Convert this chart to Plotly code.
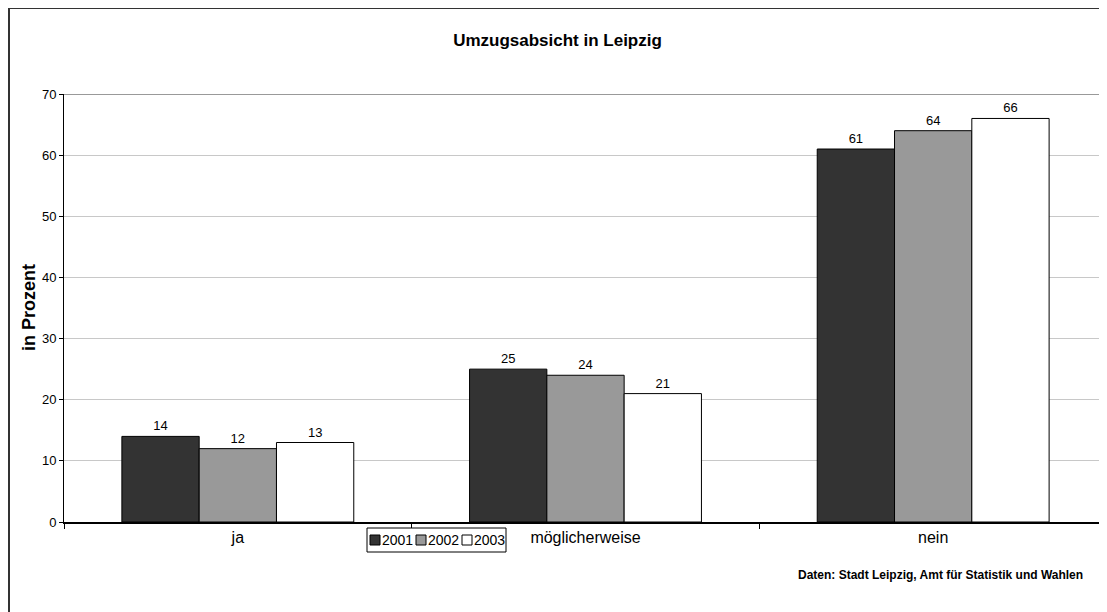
import plotly.graph_objects as go

categories = ["ja", "möglicherweise", "nein"]
years = ["2001", "2002", "2003"]
values_2001 = [14, 25, 61]
values_2002 = [12, 24, 64]
values_2003 = [13, 21, 66]

FONT = "Arial, Liberation Sans, sans-serif"
fills = {"2001": "#333333", "2002": "#999999", "2003": "#ffffff"}

# page body has an 8px margin, so figure pixels = screen pixels - 8
W, H = 1099, 604
L, R, T, B = 56, 0, 86, 90
pw, ph = W - L - R, H - T - B


def px_x(x):
    return (x - L) / pw


def px_y(y):
    return (H - B - y) / ph


fig = go.Figure()
for year, vals in zip(years, [values_2001, values_2002, values_2003]):
    fig.add_trace(go.Bar(
        name=year, x=categories, y=vals,
        marker=dict(color=fills[year], line=dict(color="#000000", width=1)),
        text=vals, texttemplate="%{y}", textposition="outside",
        textfont=dict(family=FONT, size=13, color="#000000"),
        cliponaxis=False, showlegend=False,
    ))

# outer frame (only left and top edges are inside the picture)
shapes = [
    dict(type="line", xref="paper", yref="paper",
         x0=px_x(1), x1=px_x(1), y0=px_y(620), y1=px_y(0),
         line=dict(color="#333333", width=2)),
    dict(type="line", xref="paper", yref="paper",
         x0=px_x(0), x1=px_x(1120), y0=px_y(0), y1=px_y(0),
         line=dict(color="#333333", width=2)),
    dict(type="line", xref="paper", yref="y", x0=0, x1=1, y0=70, y1=70,
         line=dict(color="#999999", width=2)),
    dict(type="rect", xref="paper", yref="paper",
         x0=px_x(359), x1=px_x(498), y0=px_y(544), y1=px_y(520),
         line=dict(color="#000000", width=1), fillcolor="white"),
]

# compact legend drawn by hand: swatch + label
annotations = []
for i, year in enumerate(years):
    sx = 362 + i * 46
    shapes.append(dict(type="rect", xref="paper", yref="paper",
                       x0=px_x(sx), x1=px_x(sx + 10),
                       y0=px_y(537), y1=px_y(527),
                       fillcolor=fills[year],
                       line=dict(color="#000000", width=1)))
    annotations.append(dict(text=year, xref="paper", yref="paper",
                            x=px_x(sx + 11), y=px_y(532), borderpad=0,
                            xanchor="left", yanchor="middle", showarrow=False,
                            font=dict(family=FONT, size=14, color="#000000")))

annotations += [
    dict(text="<b>in Prozent</b>", xref="paper", yref="paper",
         x=px_x(21), y=0.5, textangle=-90, showarrow=False,
         xanchor="center", yanchor="middle",
         font=dict(family=FONT, size=18, color="#000000")),
    dict(text="<b>Daten: Stadt Leipzig, Amt für Statistik und Wahlen</b>",
         xref="paper", yref="paper", x=px_x(932), y=px_y(567),
         xanchor="center", yanchor="middle", showarrow=False,
         font=dict(family=FONT, size=12, color="#000000")),
]

fig.update_layout(
    width=W, height=H,
    margin=dict(l=L, r=R, t=T, b=B),
    paper_bgcolor="white", plot_bgcolor="white",
    font=dict(family=FONT, color="#000000"),
    bargap=0.333, bargroupgap=0,
    showlegend=False,
    title=dict(text="<b>Umzugsabsicht in Leipzig</b>", x=0.5, xanchor="center",
               y=1 - 32 / H, yanchor="middle",
               font=dict(family=FONT, size=17, color="#000000")),
    xaxis=dict(showline=True, linecolor="#000000", linewidth=1.5,
               ticks="outside", ticklen=5, tickcolor="#000000",
               tickson="boundaries", showgrid=False,
               tickfont=dict(family=FONT, size=16, color="#000000")),
    yaxis=dict(range=[0, 70], dtick=10, showline=True, linecolor="#000000",
               linewidth=1, ticks="outside", ticklen=4, tickcolor="#000000",
               showgrid=True, gridcolor="#c8c8c8", gridwidth=1, zeroline=False,
               tickfont=dict(family=FONT, size=13, color="#000000")),
    shapes=shapes,
    annotations=annotations,
)

fig.write_html("out.html")
